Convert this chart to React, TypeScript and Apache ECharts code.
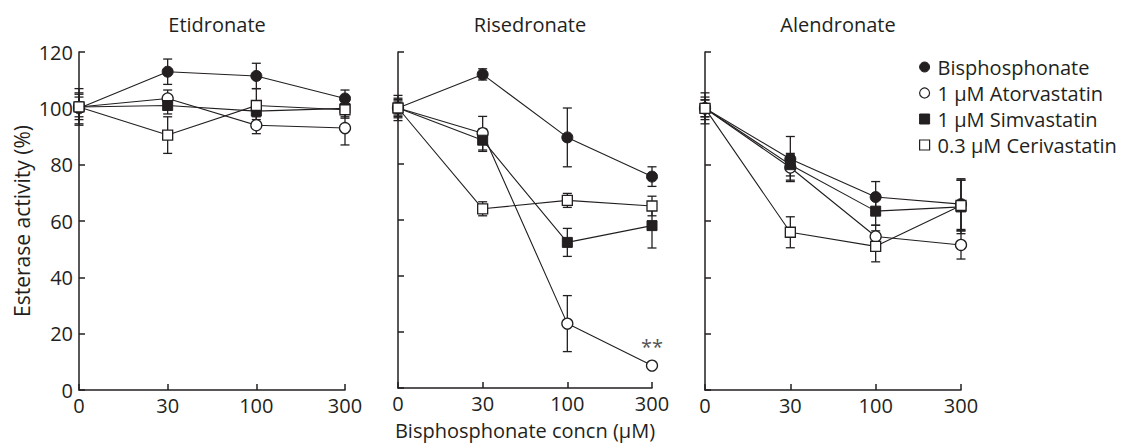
import React, { useEffect, useRef } from "react";
import * as echarts from "echarts";

const categories = ["0", "30", "100", "300"];
const panelTitles = ["Etidronate", "Risedronate", "Alendronate"];
const seriesNames = ["Bisphosphonate", "1 μM Atorvastatin", "1 μM Simvastatin", "0.3 μM Cerivastatin"];

// Etidronate
const etiBis = [100, 113, 111.5, 103.5];
const etiBisErr = [5.5, 4.5, 4.5, 3];
const etiAtor = [100.5, 103.5, 94, 93];
const etiAtorErr = [4.5, 3, 3, 6];
const etiSimv = [100.5, 101, 99, 100];
const etiSimvErr = [3.5, 3, 3, 3];
const etiCeri = [100.5, 90.5, 101, 99.5];
const etiCeriErr = [6.5, 6.5, 6, 3];

// Risedronate
const risBis = [100, 112, 89.5, 75.5];
const risBisErr = [4.5, 2, 10.5, 3.5];
const risAtor = [100, 91, 23, 8];
const risAtorErr = [3.5, 6, 10, 1];
const risSimv = [100, 88.5, 52, 58];
const risSimvErr = [2.5, 4, 5, 8];
const risCeri = [100, 64, 67, 65];
const risCeriErr = [3, 2.5, 2.5, 3.5];

// Alendronate
const aleBis = [100, 82, 68.5, 66];
const aleBisErr = [5.5, 8, 5.5, 9];
const aleAtor = [100, 79, 54.5, 51.5];
const aleAtorErr = [4, 4.5, 4, 5];
const aleSimv = [100, 80, 63.5, 65];
const aleSimvErr = [3, 4, 5, 9.5];
const aleCeri = [100, 56, 51, 65.5];
const aleCeriErr = [3, 5.5, 5.5, 9];

const yTicks = [0, 20, 40, 60, 80, 100, 120];

const INK = "#231f20";
const FONT = "Open Sans";
const FS = 20;

const panels = [
  { vals: [etiBis, etiAtor, etiSimv, etiCeri], errs: [etiBisErr, etiAtorErr, etiSimvErr, etiCeriErr] },
  { vals: [risBis, risAtor, risSimv, risCeri], errs: [risBisErr, risAtorErr, risSimvErr, risCeriErr] },
  { vals: [aleBis, aleAtor, aleSimv, aleCeri], errs: [aleBisErr, aleAtorErr, aleSimvErr, aleCeriErr] },
];

const grids = [
  { left: 79, top: 52, width: 266, height: 338 },
  { left: 398, top: 52, width: 254, height: 338 },
  { left: 705, top: 52, width: 256, height: 338 },
];

const symbols = ["circle", "circle", "rect", "rect"];
const filled = [true, false, true, false];
const sizes = [11, 11, 10, 10];

export default function App() {
  const ref = useRef<HTMLDivElement>(null);
  useEffect(() => {
    if (!ref.current) return;
    const chart = echarts.init(ref.current, null, { renderer: "svg" });
    const series: any[] = [];
    panels.forEach((p, pi) => {
      p.vals.forEach((vals, si) => {
        const errData = vals.map((v, i) => [i, v - p.errs[si][i], v + p.errs[si][i]]);
        series.push({
          type: "custom",
          xAxisIndex: pi,
          yAxisIndex: pi,
          z: 2,
          silent: true,
          encode: { x: 0, y: [1, 2] },
          data: errData,
          renderItem: (params: any, api: any) => {
            const x = api.value(0);
            const top = api.coord([x, api.value(2)]);
            const bot = api.coord([x, api.value(1)]);
            const w = 4.5;
            const st = { stroke: INK, lineWidth: 1.3 };
            return {
              type: "group",
              children: [
                { type: "line", shape: { x1: top[0], y1: top[1], x2: bot[0], y2: bot[1] }, style: st },
                { type: "line", shape: { x1: top[0] - w, y1: top[1], x2: top[0] + w, y2: top[1] }, style: st },
                { type: "line", shape: { x1: bot[0] - w, y1: bot[1], x2: bot[0] + w, y2: bot[1] }, style: st },
              ],
            };
          },
        });
      });
      p.vals.forEach((vals, si) => {
        const data: any[] = vals.map((v, i) => {
          if (pi === 1 && si === 1 && i === 3) {
            return {
              value: v,
              label: {
                show: true,
                formatter: "**",
                position: "top",
                distance: 3,
                color: "#555",
                fontFamily: FONT,
                fontSize: 20,
              },
            };
          }
          return v;
        });
        series.push({
          type: "line",
          name: seriesNames[si],
          xAxisIndex: pi,
          yAxisIndex: pi,
          z: 3,
          data,
          symbol: symbols[si],
          symbolSize: sizes[si],
          showAllSymbol: true,
          lineStyle: { color: INK, width: 1.1 },
          itemStyle: filled[si]
            ? { color: INK, borderColor: INK, borderWidth: 1 }
            : { color: "#fff", borderColor: INK, borderWidth: 1.3 },
          emphasis: { disabled: true },
        });
      });
    });

    const option: any = {
      animation: false,
      backgroundColor: "#fff",
      textStyle: { fontFamily: FONT, color: INK },
      grid: grids,
      xAxis: grids.map((g, i) => ({
        type: "category",
        gridIndex: i,
        data: categories,
        boundaryGap: false,
        axisLine: { lineStyle: { color: INK, width: 1.5 } },
        axisTick: { inside: true, length: 6, alignWithLabel: true, lineStyle: { color: INK, width: 1.5 } },
        axisLabel: { color: INK, fontFamily: FONT, fontSize: FS, margin: 5 },
        splitLine: { show: false },
        ...(i === 1
          ? {
              name: "Bisphosphonate concn (μM)",
              nameLocation: "middle",
              nameGap: 32,
              nameTextStyle: { color: INK, fontFamily: FONT, fontSize: FS },
            }
          : {}),
      })),
      yAxis: grids.map((g, i) => ({
        type: "value",
        gridIndex: i,
        min: yTicks[0],
        max: yTicks[yTicks.length - 1],
        interval: 20,
        axisLine: { show: true, lineStyle: { color: INK, width: 1.5 } },
        axisTick: { show: true, inside: true, length: 6, lineStyle: { color: INK, width: 1.5 } },
        axisLabel: { show: i === 0, color: INK, fontFamily: FONT, fontSize: FS, margin: 6 },
        splitLine: { show: false },
        ...(i === 0
          ? {
              name: "Esterase activity (%)",
              nameLocation: "middle",
              nameGap: 47,
              nameTextStyle: { color: INK, fontFamily: FONT, fontSize: 21 },
            }
          : {}),
      })),
      title: grids.map((g, i) => ({
        text: panelTitles[i],
        left: g.left + g.width / 2,
        top: 9,
        textAlign: "center",
        textStyle: { color: INK, fontFamily: FONT, fontSize: FS, fontWeight: "normal" },
      })),
      legend: {
        orient: "vertical",
        left: 914,
        top: 52,
        itemWidth: 10,
        itemHeight: 10,
        itemGap: 6,
        selectedMode: false,
        textStyle: { color: INK, fontFamily: FONT, fontSize: FS, padding: [0, 0, 0, 3] },
        data: seriesNames.map((n, si) => ({
          name: n,
          icon: symbols[si],
          itemStyle: filled[si]
            ? { color: INK, borderColor: INK, borderWidth: 1 }
            : { color: "#fff", borderColor: INK, borderWidth: 1.2 },
        })),
      },
      series,
    };
    chart.setOption(option);
    return () => chart.dispose();
  }, []);
  return (
    <div
      ref={ref}
      style={{ position: "fixed", left: 0, top: 0, width: 1128, height: 445, background: "#fff" }}
    />
  );
}
